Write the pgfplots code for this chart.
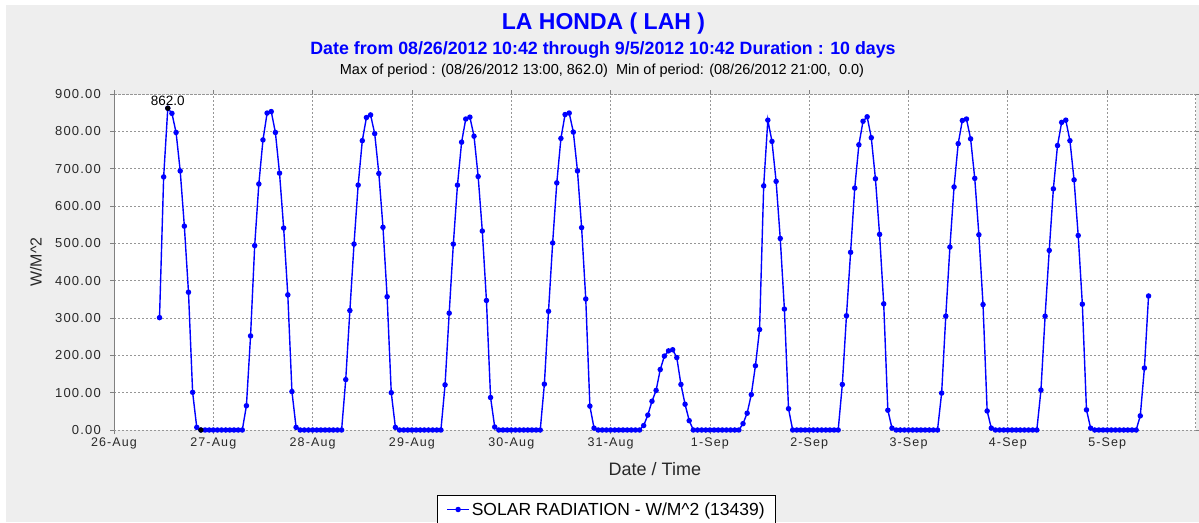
\documentclass[border=0pt]{standalone}
\usepackage{fontspec}
\setmainfont{Liberation Sans}
\newfontfamily\tickfont[LetterSpace=9]{Liberation Sans}
\usepackage{pgfplots}
\usepackage{pgfplotstable}
\pgfplotsset{compat=1.18}
\definecolor{bgc}{RGB}{238,238,238}
\definecolor{jblue}{RGB}{0,0,255}
\definecolor{gridc}{RGB}{150,150,150}
\definecolor{axc}{RGB}{128,128,128}
\definecolor{tickc}{RGB}{40,40,40}

\pgfplotstableread{
h v
11 301
12 678
13 862
14 848
15 797
16 694
17 546
18 369
19 101
20 7
21 0
22 0
23 0
24 0
25 0
26 0
27 0
28 0
29 0
30 0
31 0
32 65
33 252
34 494
35 659
36 777
37 849
38 853
39 797
40 688
41 541
42 362
43 103
44 7
45 0
46 0
47 0
48 0
49 0
50 0
51 0
52 0
53 0
54 0
55 0
56 135
57 320
58 498
59 656
60 775
61 837
62 844
63 794
64 687
65 543
66 357
67 100
68 7
69 0
70 0
71 0
72 0
73 0
74 0
75 0
76 0
77 0
78 0
79 0
80 121
81 313
82 498
83 656
84 771
85 833
86 838
87 787
88 679
89 533
90 347
91 87
92 8
93 0
94 0
95 0
96 0
97 0
98 0
99 0
100 0
101 0
102 0
103 0
104 123
105 318
106 501
107 662
108 781
109 845
110 849
111 798
112 694
113 542
114 351
115 64
116 5
117 0
118 0
119 0
120 0
121 0
122 0
123 0
124 0
125 0
126 0
127 0
128 12
129 40
130 77
131 106
132 162
133 198
134 212
135 215
136 194
137 122
138 69
139 25
140 0
141 0
142 0
143 0
144 0
145 0
146 0
147 0
148 0
149 0
150 0
151 0
152 17
153 45
154 95
155 172
156 269
157 654
158 830
159 773
160 666
161 513
162 324
163 57
164 0
165 0
166 0
167 0
168 0
169 0
170 0
171 0
172 0
173 0
174 0
175 0
176 122
177 306
178 476
179 648
180 764
181 827
182 839
183 783
184 673
185 524
186 338
187 53
188 5
189 0
190 0
191 0
192 0
193 0
194 0
195 0
196 0
197 0
198 0
199 0
200 99
201 305
202 490
203 651
204 767
205 829
206 833
207 780
208 674
209 523
210 336
211 51
212 5
213 0
214 0
215 0
216 0
217 0
218 0
219 0
220 0
221 0
222 0
223 0
224 107
225 305
226 481
227 646
228 762
229 824
230 830
231 775
232 670
233 521
234 337
235 54
236 5
237 0
238 0
239 0
240 0
241 0
242 0
243 0
244 0
245 0
246 0
247 0
248 38
249 166
250 359
}\solar

\begin{document}
\begin{tikzpicture}
\path[use as bounding box] (0,0) rectangle (1199pt,522pt);
\fill[white] (0,0) rectangle (1199pt,522pt);
\fill[bgc] (6pt,0) rectangle (1199pt,517pt);
\node[anchor=base,text=jblue,font=\fontsize{23}{26}\selectfont\bfseries,inner sep=0pt] at (603.5pt,492.7pt) {LA HONDA ( LAH )};
\node[anchor=base,text=jblue,font=\fontsize{17.8}{20}\selectfont\bfseries,inner sep=0pt] at (603pt,467pt) {Date from 08/26/2012 10:42 through 9/5/2012 10:42 Duration : 10 days};
\node[anchor=base,text=black,font=\fontsize{14.5}{17}\selectfont,inner sep=0pt] at (602pt,447pt) {Max of period : (08/26/2012 13:00, 862.0)\ \ Min of period: (08/26/2012 21:00,\ \ 0.0)};
\begin{axis}[
  at={(114pt,92pt)}, anchor=south west,
  scale only axis, width=1081.7pt, height=336pt,
  xmin=0, xmax=261.4, ymin=0, ymax=900,
  axis background/.style={fill=white},
  axis line style={draw=none},
  xtick={0,24,...,240},
  xticklabels={26-Aug,27-Aug,28-Aug,29-Aug,30-Aug,31-Aug,1-Sep,2-Sep,3-Sep,4-Sep,5-Sep},
  ytick={0,100,...,900},
  yticklabels={0.00,100.00,200.00,300.00,400.00,500.00,600.00,700.00,800.00,900.00},
  tick align=outside, major tick length=4pt,
  tick style={axc, line width=0.8pt},
  grid=major,
  major grid style={gridc, line width=0.8pt, dash pattern=on 2pt off 2pt},
  xticklabel style={font=\tickfont\fontsize{12.5}{14}\selectfont, text=tickc},
  yticklabel style={font=\tickfont\fontsize{13}{14}\selectfont, text=tickc, anchor=east, inner sep=0pt, xshift=-9pt},
  xlabel={Date / Time}, ylabel={W/M\^{}2},
  xlabel style={at={(axis description cs:0.5,-0.1348)}, anchor=base, font=\fontsize{18}{21}\selectfont, text=tickc},
  ylabel style={at={(axis description cs:-0.0721,0.5)}, anchor=center, font=\fontsize{16}{18}\selectfont, text=tickc},
  legend style={at={(axis description cs:0.4553,-0.1935)}, anchor=north, draw=black, line width=0.8pt, fill=white,
    font=\fontsize{17.5}{20}\selectfont, inner xsep=9pt, inner ysep=5pt},
  legend image code/.code={\draw[mark repeat=2,mark phase=2,#1] plot coordinates {(0pt,0pt) (11pt,0pt) (22pt,0pt)};},
  clip=false,
]
\addplot[jblue, line width=1.4pt, mark=*, mark size=2pt, mark options={fill=jblue, draw=jblue}] table[x=h,y=v] {\solar};
\addlegendentry{SOLAR RADIATION - W/M\^{}2 (13439)}
\addplot[only marks, mark=*, mark size=2.4pt, black, forget plot] coordinates {(13,862) (21,0)};
\node[anchor=base, font=\fontsize{13.5}{15}\selectfont, inner sep=0pt] at (axis cs:13,862) [yshift=3pt] {862.0};
\draw[axc, line width=0.8pt] (rel axis cs:0,0) -- (rel axis cs:0,1);
\draw[gridc, line width=0.8pt, dash pattern=on 2pt off 2pt] (rel axis cs:0,0) -- (rel axis cs:1,0) -- (rel axis cs:1,1) -- (rel axis cs:0,1);
\end{axis}
\end{tikzpicture}
\end{document}
